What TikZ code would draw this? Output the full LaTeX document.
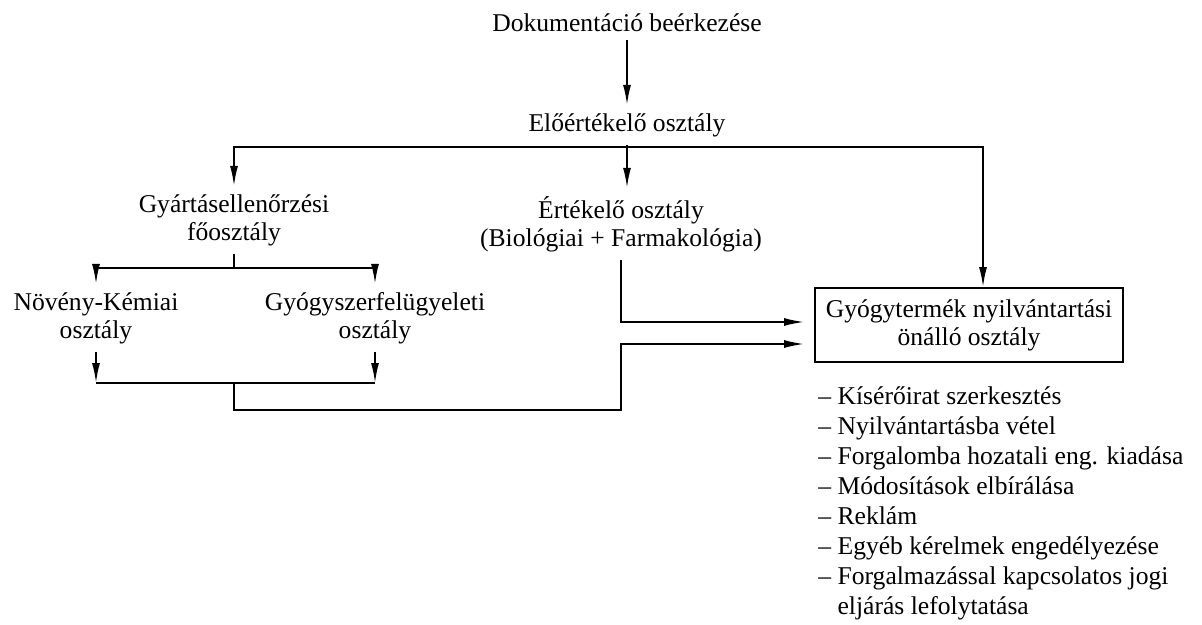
\documentclass[tikz,border=0pt]{standalone}
\usepackage{fontspec}
\setmainfont{Liberation Serif}
\usepackage{tikz}
\usetikzlibrary{calc}
\usetikzlibrary{arrows.meta}

\begin{document}
\begin{tikzpicture}[x=0.5pt,y=-0.5pt,>={Latex[length=10pt,width=4pt]},
		txt/.style={align=center,inner sep=4pt,font=\fontsize{12.8}{14}\selectfont},
		conn/.style={line width=0.9pt}]
		\useasboundingbox (0,0) rectangle (1202,625);

		% Beerkezes es eloertekeles
		\node at (627,23) (doc) [txt] {Dokumentáció beérkezése};
		\node at (627,125) (elo) [txt] {Előértékelő osztály};
		\coordinate (bus) at (627,147);

		% Osztalyok
		\node at (234,220) (gyart) [txt] {Gyártásellenőrzési\\főosztály};
		\node at (621,224) (ert) [txt] {Értékelő osztály\\(Biológiai + Farmakológia)};
		\node at (969,325) (nyilv) [txt,draw,line width=0.9pt,inner xsep=2pt,minimum width=154pt,minimum height=37pt] {Gyógytermék nyilvántartási\\önálló osztály};

		% Alosztalyok
		\node at (96,318) (noveny) [txt] {Növény-Kémiai\\osztály};
		\node at (375,318) (gyogy) [txt] {Gyógyszerfelügyeleti\\osztály};
		\coordinate (split) at (234,268);
		\coordinate (join) at (234,383);
		\coordinate (low) at (234,410);
		\coordinate (in1) at ([yshift=1.5pt]nyilv.west);
		\coordinate (in2) at ([yshift=-9.5pt]nyilv.west);

		% Feladatok
		\node at (814,382) (feladat) [anchor=north west,align=left,inner sep=2pt,font=\fontsize{12.8}{15}\selectfont] {%
			– Kísérőirat szerkesztés\\
			– Nyilvántartásba vétel\\
			– Forgalomba hozatali eng. kiadása\\
			– Módosítások elbírálása\\
			– Reklám\\
			– Egyéb kérelmek engedélyezése\\
			– Forgalmazással kapcsolatos jogi\\
			\phantom{–}\ eljárás lefolytatása};

		% Nyilak
		\draw[conn,->] (doc) -- (elo);
		\draw[conn,->] (elo.south) -- (elo.south |- ert.north);
		\draw[conn,->] (bus) -| (gyart.north);
		\draw[conn,->] (bus) -| ([xshift=7pt]nyilv.north);

		\draw[conn] (gyart.south) -- (split);
		\draw[conn,->] (split) -| (noveny.north);
		\draw[conn,->] (split) -| (gyogy.north);
		\draw[conn,->] (noveny.south) -- (noveny.south |- join);
		\draw[conn,->] (gyogy.south) -- (gyogy.south |- join);
		\draw[conn] (noveny.south |- join) -- (gyogy.south |- join);

		\draw[conn,->,shorten >=5pt] (ert.south) |- (in1);
		\draw[conn,->,shorten >=5pt] (join) -- (low) -| (ert.south |- in2) -- (in2);

	\end{tikzpicture}
\end{document}
